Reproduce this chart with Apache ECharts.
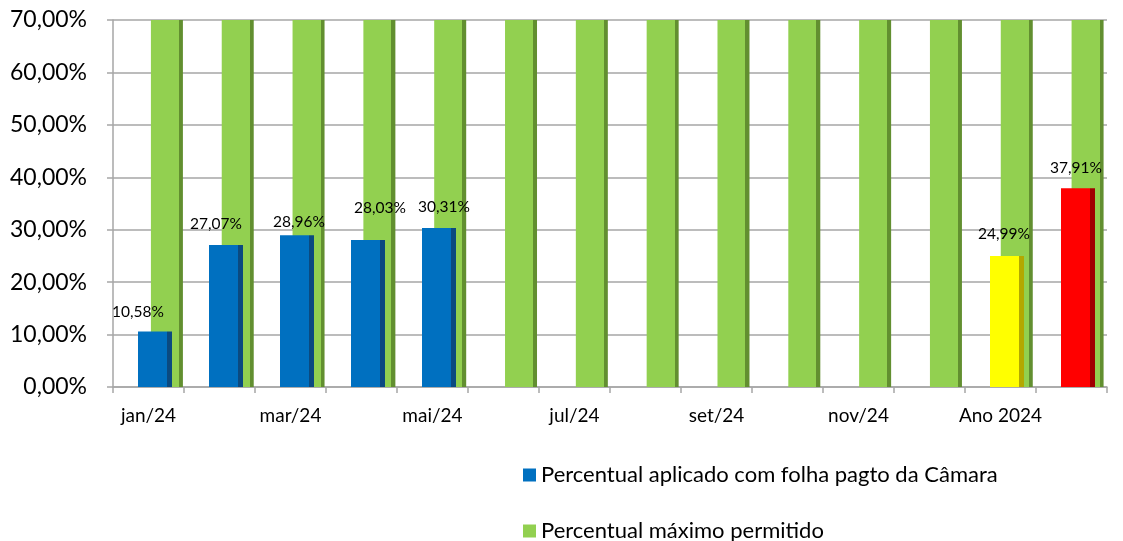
<!DOCTYPE html>
<html>
<head>
<meta charset="utf-8">
<script src="https://cdn.jsdelivr.net/npm/echarts@6/dist/echarts.min.js"></script>
<style>
html,body{margin:0;padding:0;background:#fff;}
#chart{width:1123px;height:541px;}
</style>
</head>
<body>
<div id="chart"></div>
<script>
// ---- data ----
const categories = ['jan/24','fev/24','mar/24','abr/24','mai/24','jun/24','jul/24','ago/24','set/24','out/24','nov/24','dez/24','Ano 2024','Total'];
const appliedValues = [10.58, 27.07, 28.96, 28.03, 30.31, null, null, null, null, null, null, null, 24.99, 37.91];
const maxAllowedValues = [70, 70, 70, 70, 70, 70, 70, 70, 70, 70, 70, 70, 70, 70];
const yTicks = [0, 10, 20, 30, 40, 50, 60, 70];
const seriesNames = ['Percentual aplicado com folha pagto da Câmara', 'Percentual máximo permitido'];

// ---- styling ----
const FONT = 'Lato';
function edgeGrad(main, dark, stop) {
  return { type: 'linear', x: 0, y: 0, x2: 1, y2: 0,
    colorStops: [{offset: 0, color: main}, {offset: stop, color: main}, {offset: stop, color: dark}, {offset: 1, color: dark}] };
}
const blueFill = edgeGrad('#0070C0', '#0B4A80', 0.853);
const greenFill = edgeGrad('#92D050', '#628F30', 0.875);
const specialFill = {12: edgeGrad('#FFFF00', '#B3A800', 0.853), 13: edgeGrad('#FF0000', '#A00000', 0.853)};
const labelNudge = {0: [-17, -7], 1: [-10, -8], 2: [2, 0], 3: [12, -19], 4: [5, -8], 12: [-3, -9], 13: [-2, -7]};

const pct = v => v.toFixed(2).replace('.', ',') + '%';

const gridTop = 20, gridH = 367, gridW = 994, gridL = 113;

const blueData = appliedValues.map((v, i) => {
  const item = { value: v, itemStyle: { color: specialFill[i] || blueFill } };
  const n = labelNudge[i];
  if (n) item.label = { offset: n };
  return item;
});

const chart = echarts.init(document.getElementById('chart'), null, {renderer: 'canvas'});
const hiddenX = (gi) => ({ type: 'category', gridIndex: gi, data: categories, show: false });
const hiddenY = (gi) => ({ type: 'value', gridIndex: gi, min: yTicks[0], max: yTicks[yTicks.length-1], interval: 10, show: false, splitLine: {show: false} });

chart.setOption({
  animation: false,
  backgroundColor: '#fff',
  textStyle: { fontFamily: FONT },
  grid: [
    { left: gridL, top: gridTop, width: gridW, height: gridH },
    { left: gridL + 6.5, top: gridTop, width: gridW, height: gridH },
    { left: gridL + 18.5, top: gridTop, width: gridW, height: gridH }
  ],
  xAxis: [
    { type: 'category', gridIndex: 0, data: categories,
      axisLine: { lineStyle: { color: '#A6A6A6', width: 1.5 } },
      axisTick: { show: true, interval: 0, length: 6, lineStyle: { color: '#A6A6A6', width: 1.5 } },
      axisLabel: { interval: 1, color: '#000', fontFamily: FONT, fontSize: 19, margin: 19 },
      splitLine: { show: false } },
    hiddenX(1), hiddenX(2)
  ],
  yAxis: [
    { type: 'value', gridIndex: 0, min: yTicks[0], max: yTicks[yTicks.length-1], interval: 10,
      axisLine: { show: true, lineStyle: { color: '#A6A6A6', width: 1.5 } },
      axisTick: { show: true, length: 6, lineStyle: { color: '#A6A6A6', width: 1.5 } },
      axisLabel: { color: '#000', fontFamily: FONT, fontSize: 23, margin: 26, formatter: pct },
      splitLine: { show: true, lineStyle: { color: '#A6A6A6', width: 1.5 } } },
    hiddenY(1), hiddenY(2)
  ],
  legend: {
    orient: 'vertical', left: 518, top: 459, height: 120,
    itemWidth: 13, itemHeight: 13, itemGap: 34,
    icon: 'rect',
    data: [
      { name: seriesNames[0], itemStyle: { color: '#0070C0' } },
      { name: seriesNames[1], itemStyle: { color: '#92D050' } }
    ],
    textStyle: { color: '#000', fontFamily: FONT, fontSize: 22, lineHeight: 22 }
  },
  series: [
    { name: seriesNames[1], type: 'bar', xAxisIndex: 2, yAxisIndex: 2, barWidth: 32, z: 2,
      data: maxAllowedValues, itemStyle: { color: greenFill } },
    { name: seriesNames[0], type: 'bar', xAxisIndex: 1, yAxisIndex: 1, barWidth: 34, z: 3,
      data: blueData, itemStyle: { color: '#0070C0' },
      label: { show: true, position: 'top', distance: 5, color: '#000', fontFamily: FONT, fontSize: 15.5,
        formatter: p => p.value == null ? '' : pct(p.value) } }
  ]
});
</script>
</body>
</html>
